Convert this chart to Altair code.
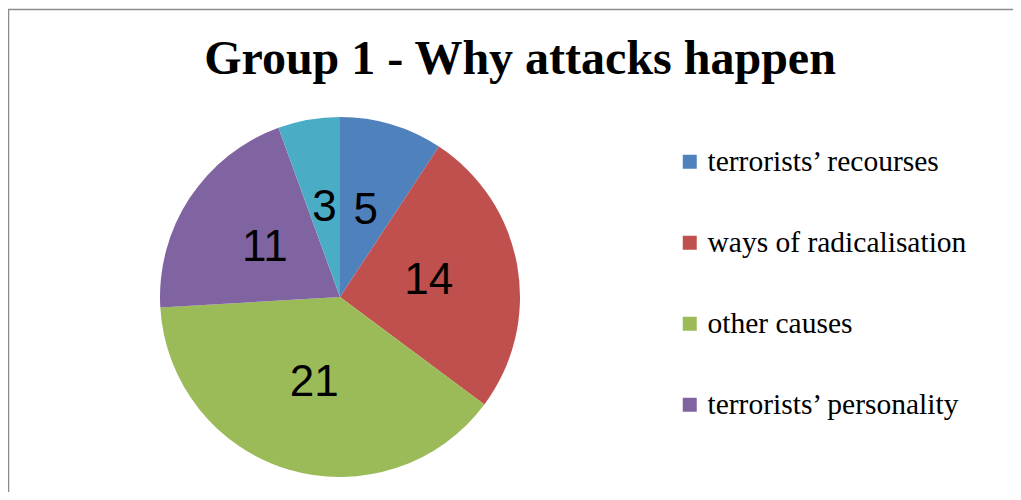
import altair as alt
import pandas as pd

TITLE = "Group 1 - Why attacks happen"
categories = [
    "terrorists\u2019 recourses",
    "ways of radicalisation",
    "other causes",
    "terrorists\u2019 personality",
    "other factors",
]
values = [5, 14, 21, 11, 3]
colors = ["#4F81BD", "#C0504D", "#9BBB59", "#8064A2", "#4BACC6"]
legend_items = categories[:4]

df = pd.DataFrame({"category": categories, "value": values, "order": list(range(len(values)))})

CX, CY, R = 332, 289, 180

base = alt.Chart(df).encode(
    theta=alt.Theta("value:Q", stack=True),
    order=alt.Order("order:Q"),
)

color = alt.Color(
    "category:N",
    scale=alt.Scale(domain=categories, range=colors),
    legend=alt.Legend(
        values=legend_items,
        title=None,
        orient="none",
        legendX=667,
        legendY=139,
        padding=0,
        symbolType="square",
        symbolSize=196,
        symbolStrokeWidth=0,
        labelFont="Liberation Serif, Times New Roman, serif",
        labelFontSize=29.5,
        labelColor="black",
        labelOffset=3,
        labelLimit=400,
        rowPadding=50,
    ),
)

pie = base.mark_arc(radius=R, x=CX, y=CY).encode(color=color)

labels = base.mark_text(
    radius=R / 2, x=CX, y=CY, font="Liberation Sans", fontSize=44, color="black"
).encode(text="value:Q")

title_layer = alt.Chart(pd.DataFrame({"t": [TITLE]})).mark_text(
    font="Liberation Serif", fontWeight="bold", fontSize=48, x=512, y=66,
    baseline="alphabetic", color="black",
).encode(text="t:N")

border = alt.Chart(pd.DataFrame({"a": [0]})).mark_rect(
    filled=False, stroke="#8c8c8c", strokeWidth=1.5
).encode(x=alt.value(0.5), x2=alt.value(1300), y=alt.value(1.5), y2=alt.value(800))

chart = (
    alt.layer(border, pie, labels, title_layer)
    .properties(width=1005, height=484, autosize="none", padding=0)
    .configure_view(stroke=None)
)

chart.save("out.html", embed_options={"renderer": "svg", "actions": False})
